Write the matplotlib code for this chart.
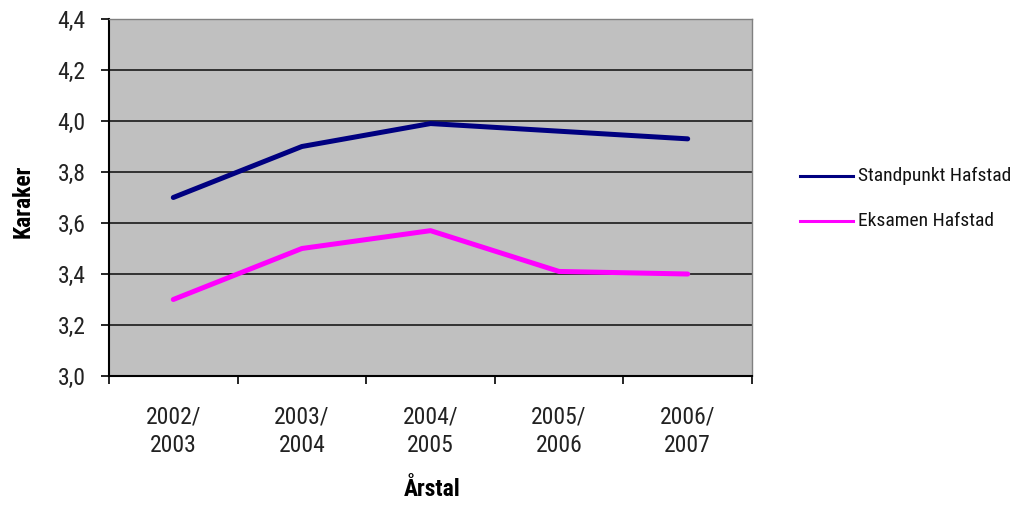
import os
import matplotlib
matplotlib.use("Agg")
import matplotlib.pyplot as plt
from matplotlib import font_manager as fm
from matplotlib.font_manager import FontProperties
from matplotlib.ticker import FuncFormatter, FixedLocator
from matplotlib.lines import Line2D
import numpy as np

categories = ["2002/\n2003", "2003/\n2004", "2004/\n2005", "2005/\n2006", "2006/\n2007"]
standpunkt = [3.70, 3.90, 3.99, 3.96, 3.93]
eksamen = [3.30, 3.50, 3.57, 3.41, 3.40]
series_names = ["Standpunkt Hafstad", "Eksamen Hafstad"]
series_colors = ["#000080", "#FF00FF"]
yticks = [3.0, 3.2, 3.4, 3.6, 3.8, 4.0, 4.2, 4.4]


def find_narrow():
    prefs = ["liberation sans narrow", "arial narrow", "roboto condensed",
             "noto sans condensed", "noto sans", "open sans condensed",
             "open sans", "dejavu sans condensed", "dejavu sans"]
    found = {}
    for f in fm.fontManager.ttflist:
        base = os.path.basename(f.fname).lower()
        nm = f.name.lower()
        narrow = ("narrow" in nm or "narrow" in base or
                  ("condensed" in base and "semi" not in base and "extra" not in base and "ultra" not in base) or
                  ("condensed" in nm and "semi" not in nm and "extra" not in nm))
        if not narrow or f.style != "normal":
            continue
        w = f.weight if isinstance(f.weight, int) else {"normal": 400, "regular": 400, "bold": 700}.get(str(f.weight), 400)
        kind = "reg" if w == 400 else ("bold" if w == 700 else None)
        if kind is None:
            continue
        found.setdefault(nm, {})[kind] = f.fname
    for p in prefs:
        if p in found and "reg" in found[p] and "bold" in found[p]:
            return found[p]["reg"], found[p]["bold"]
    for nm, d in found.items():
        if "reg" in d and "bold" in d:
            return d["reg"], d["bold"]
    return None


narrow = find_narrow()
if narrow:
    reg_path, bold_path = narrow
    fp = lambda s: FontProperties(fname=reg_path, size=s)
    fpb = lambda s: FontProperties(fname=bold_path, size=s)
    tick_sz, leg_sz, title_sz = 17, 14, 17
else:
    fp = lambda s: FontProperties(family=["Liberation Sans", "DejaVu Sans"], size=s)
    fpb = lambda s: FontProperties(family=["Liberation Sans", "DejaVu Sans"], weight="bold", size=s)
    tick_sz, leg_sz, title_sz = 14.5, 12, 15

W, H = 1020, 505
fig = plt.figure(figsize=(W / 100, H / 100), dpi=100)
ax = fig.add_axes([109 / W, 1 - 376 / H, (752 - 109) / W, (376 - 19) / H])
ax.set_facecolor("#C0C0C0")

x = np.arange(len(categories))
ax.plot(x, standpunkt, color=series_colors[0], lw=3.6, solid_capstyle="round", solid_joinstyle="round", zorder=3)
ax.plot(x, eksamen, color=series_colors[1], lw=3.6, solid_capstyle="round", solid_joinstyle="round", zorder=3)

ax.set_xlim(-0.5, len(categories) - 0.5)
ax.set_ylim(3.0, 4.4)
ax.set_yticks(yticks)
ax.yaxis.set_major_formatter(FuncFormatter(lambda v, p: f"{v:.1f}".replace(".", ",")))
ax.grid(axis="y", color="#1a1a1a", lw=1.2)
ax.set_axisbelow(True)

ax.xaxis.set_major_locator(FixedLocator(np.arange(-0.5, len(categories), 1.0)))
ax.xaxis.set_major_formatter(FuncFormatter(lambda v, p: ""))
ax.xaxis.set_minor_locator(FixedLocator(x))
ax.set_xticklabels(categories, minor=True)
ax.tick_params(axis="x", which="major", length=6, width=1.2, direction="out", color="#000000")
ax.tick_params(axis="x", which="minor", length=0, pad=21, colors="#222222")
ax.tick_params(axis="y", length=6, width=1.2, direction="out", pad=11, colors="#000000", labelcolor="#222222")
for lab in ax.get_xticklabels(minor=True):
    lab.set_fontproperties(fp(tick_sz))
    lab.set_linespacing(1.3)
for lab in ax.get_yticklabels():
    lab.set_fontproperties(fp(tick_sz))

for s in ["top", "right"]:
    ax.spines[s].set_color("#808080")
    ax.spines[s].set_linewidth(1.0)
for s in ["left", "bottom"]:
    ax.spines[s].set_color("#000000")
    ax.spines[s].set_linewidth(1.5)

fig.text(23 / W, 1 - 201 / H, "Karaker", rotation=90, ha="center", va="center", fontproperties=fpb(title_sz))
fig.text(432 / W, 1 - 490 / H, "Årstal", ha="center", va="center", fontproperties=fpb(title_sz))

# legend
leg_y = [176, 221]
for name, col, yy in zip(series_names, series_colors, leg_y):
    fig.add_artist(Line2D([800 / W, 853 / W], [1 - yy / H, 1 - yy / H], transform=fig.transFigure,
                          color=col, lw=2.2))
    fig.text(858 / W, 1 - yy / H, name, ha="left", va="center", fontproperties=fp(leg_sz), color="#111111")

fig.savefig("out.png", dpi=100)
